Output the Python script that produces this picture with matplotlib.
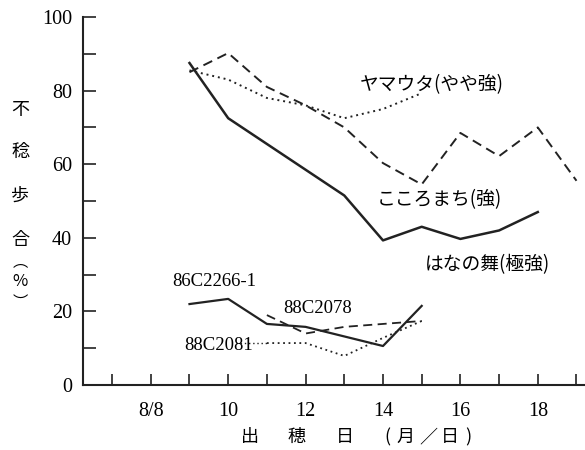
import matplotlib
matplotlib.use("Agg")
import matplotlib.pyplot as plt

plt.rcParams['font.family'] = ['Liberation Serif', 'Noto Sans CJK JP', 'DejaVu Sans']

# data (day of August, sterility %)
hana_days = [9, 10, 11, 12, 13, 14, 15, 16, 17, 18]
hana_vals = [87.5, 72.5, 65.5, 58.5, 51.5, 39.3, 43, 39.7, 42, 47]

koko_days = [9, 10, 11, 12, 13, 14, 15, 16, 17, 18, 19]
koko_vals = [85, 90.2, 81, 76, 70, 60.3, 54.5, 68.5, 62.2, 70, 55.5]

yama_days = [9, 10, 11, 12, 13, 14, 15]
yama_vals = [85.5, 83, 78, 76, 72.5, 75, 79.3]

s2266_days = [9, 10, 11, 12, 13, 14, 15]
s2266_vals = [22, 23.4, 16.6, 15.8, 13.2, 10.6, 21.5]

s2078_days = [11, 12, 13, 14, 15]
s2078_vals = [19, 14, 15.8, 16.6, 17.4]

s2081_days = [11, 12, 13, 14, 15]
s2081_vals = [11.4, 11.4, 7.9, 12.8, 17.4]

xtick_pos = [8, 10, 12, 14, 16, 18]
xtick_labels = ['8/8', '10', '12', '14', '16', '18']
ytick_pos = [0, 20, 40, 60, 80, 100]

fig = plt.figure(figsize=(5.85, 4.5), dpi=100)
ax = fig.add_axes([0.142, 0.1444, 0.858, 0.8178])

c = '#222222'
ax.plot(hana_days, hana_vals, color=c, lw=1.8, ls='-')
ax.plot(koko_days, koko_vals, color=c, lw=1.4, ls=(0, (5, 3)))
ax.plot(yama_days, yama_vals, color=c, lw=1.4, ls=(0, (1, 2)))
ax.plot(s2266_days, s2266_vals, color=c, lw=1.6, ls='-')
ax.plot(s2078_days, s2078_vals, color=c, lw=1.3, ls=(0, (5, 3)))
ax.plot(s2081_days, s2081_vals, color=c, lw=1.3, ls=(0, (1, 2)))

ax.set_xlim(6.25, 19.22)
ax.set_ylim(0, 100)
for s in ['top', 'right']:
    ax.spines[s].set_visible(False)
ax.spines['left'].set_linewidth(1.5)
ax.spines['bottom'].set_linewidth(1.5)
ax.spines['left'].set_color(c)
ax.spines['bottom'].set_color(c)

ax.set_xticks(range(7, 20), minor=True)
ax.set_xticks(xtick_pos)
ax.set_xticklabels(xtick_labels)
ax.set_yticks(ytick_pos)
ax.set_yticks(range(10, 100, 20), minor=True)
ax.tick_params(axis='both', which='both', direction='in', color=c, width=1.2)
ax.tick_params(axis='y', which='both', length=9, labelsize=14.5, pad=8)
ax.tick_params(axis='x', which='both', length=8, labelsize=14.5, pad=12)

jp = ['Noto Sans CJK JP', 'DejaVu Sans']
ax.text(15.25, 81.5, 'ヤマウタ(やや強)', family=jp, fontsize=13.5, ha='center', va='center')
ax.text(15.45, 50.3, 'こころまち(強)', family=jp, fontsize=13.5, ha='center', va='center')
ax.text(16.7, 32.6, 'はなの舞(極強)', family=jp, fontsize=13.5, ha='center', va='center')
ax.text(9.65, 28.0, '86C2266-1', fontsize=13.5, ha='center', va='center')
ax.text(12.3, 20.8, '88C2078', fontsize=13.5, ha='center', va='center')
ax.text(9.75, 10.8, '88C2081', fontsize=13.5, ha='center', va='center')
ax.plot([10.2, 11.0], [11.4, 11.4], color=c, lw=1.0, ls=(0, (1, 2)))

# y label (vertical)
ylab = [('不', 110), ('稔', 152), ('歩', 196), ('合', 240)]
for ch, py in ylab:
    fig.text(20 / 585, 1 - py / 450, ch, family=jp, fontsize=13, ha='center', va='center')
fig.text(20 / 585, 1 - 262 / 450, '︵', family=jp, fontsize=11, ha='center', va='center')
fig.text(20 / 585, 1 - 282 / 450, '%', family=jp, fontsize=12, ha='center', va='center')
fig.text(20 / 585, 1 - 302 / 450, '︶', family=jp, fontsize=11, ha='center', va='center')

# x label
xlab = [('出', 250), ('穂', 297), ('日', 345), ('(', 387), ('月', 405), ('／', 428), ('日', 450), (')', 468)]
for ch, px in xlab:
    fig.text(px / 585, 1 - 437 / 450, ch, family=jp, fontsize=13, ha='center', va='center')

fig.savefig('out.png', dpi=100)
